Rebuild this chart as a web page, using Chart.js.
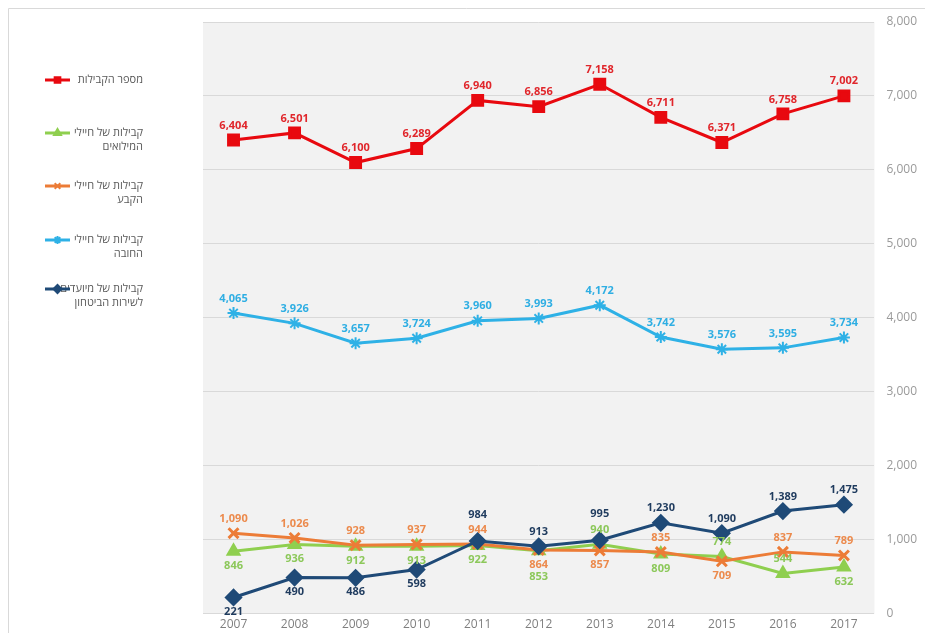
<!DOCTYPE html>
<html lang="he">
<head>
<meta charset="utf-8">
<title>קבילות</title>
<script src="https://cdn.jsdelivr.net/npm/chart.js@4/dist/chart.umd.min.js"></script>
<style>
  body { margin: 0; background: #fff; }
  canvas { display: block; }
</style>
</head>
<body>
<canvas id="grafico" width="925" height="633"></canvas>
<script>
const years = ['2007', '2008', '2009', '2010', '2011', '2012', '2013', '2014', '2015', '2016', '2017'];
const totalComplaints = [6404, 6501, 6100, 6289, 6940, 6856, 7158, 6711, 6371, 6758, 7002];
const reserveSoldiers = [846, 936, 912, 913, 922, 853, 940, 809, 774, 544, 632];
const careerSoldiers = [1090, 1026, 928, 937, 944, 864, 857, 835, 709, 837, 789];
const conscripts = [4065, 3926, 3657, 3724, 3960, 3993, 4172, 3742, 3576, 3595, 3734];
const candidates = [221, 490, 486, 598, 984, 913, 995, 1230, 1090, 1389, 1475];
const yMax = 8000;
const yStep = 1000;

const ctx = document.getElementById('grafico').getContext('2d');

// legend text lines for each series (RTL)
const legendLines = [
  ['מספר הקבילות'],
  ['קבילות של חיילי', 'המילואים'],
  ['קבילות של חיילי', 'הקבע'],
  ['קבילות של חיילי', 'החובה'],
  ['קבילות של מיועדים', 'לשירות הביטחון']
];
const legendY = [80, 133, 186, 240, 289];

// label placement: a = above, b = below, A/B = further away
const datasets = [
  {
    label: 'מספר הקבילות',
    data: totalComplaints,
    borderColor: '#e8090f', backgroundColor: '#e8090f',
    pointStyle: 'rect', pointRadius: 7, pointHoverRadius: 7,
    labelColor: '#e0262b',
    labelPos: 'aaaaaaaaaaa'
  },
  {
    label: 'קבילות של חיילי המילואים',
    data: reserveSoldiers,
    borderColor: '#8fcf4f', backgroundColor: '#8fcf4f',
    pointStyle: 'triangle', pointRadius: 6, pointHoverRadius: 6,
    labelColor: '#8cc85a',
    labelPos: 'bbbbbBabaab'
  },
  {
    label: 'קבילות של חיילי הקבע',
    data: careerSoldiers,
    borderColor: '#ec7c37', backgroundColor: '#ec7c37',
    pointStyle: 'crossRot', pointRadius: 7, pointHoverRadius: 7, pointBorderWidth: 3,
    labelColor: '#ec8a4c',
    labelPos: 'aaaaabbabaa'
  },
  {
    label: 'קבילות של חיילי החובה',
    data: conscripts,
    borderColor: '#2eb1e6', backgroundColor: '#2eb1e6',
    pointStyle: 'star', pointRadius: 6, pointHoverRadius: 6, pointBorderWidth: 2,
    labelColor: '#2eaee3',
    labelPos: 'aaaaaaaaaaa'
  },
  {
    label: 'קבילות של מיועדים לשירות הביטחון',
    data: candidates,
    borderColor: '#1f4a77', backgroundColor: '#1f4a77',
    pointStyle: 'rectRot', pointRadius: 7, pointHoverRadius: 7,
    labelColor: '#1f3b5e',
    labelPos: 'bbbbAaAaaaa'
  }
];
datasets.forEach(d => { d.borderWidth = 3; d.tension = 0; });
// dark blue on top, then red
const drawOrder = [1, 4, 3, 5, 0];
datasets.forEach((d, i) => { d.order = drawOrder[i]; });

const plotBackground = {
  id: 'plotBackground',
  beforeDraw(chart) {
    const c = chart.ctx;
    const a = chart.chartArea;
    c.save();
    // outer frame
    c.strokeStyle = '#d9d9d9';
    c.lineWidth = 1;
    c.beginPath();
    c.moveTo(8.5, 633);
    c.lineTo(8.5, 8.5);
    c.lineTo(925, 8.5);
    c.stroke();
    c.fillStyle = '#f2f2f2';
    c.fillRect(a.left, a.top, a.right - a.left, a.bottom - a.top);
    c.restore();
  }
};

const pointLabels = {
  id: 'pointLabels',
  afterDatasetsDraw(chart) {
    const c = chart.ctx;
    c.save();
    c.font = 'bold 11px "Open Sans", sans-serif';
    c.textAlign = 'center';
    chart.data.datasets.forEach((ds, i) => {
      const meta = chart.getDatasetMeta(i);
      c.fillStyle = ds.labelColor;
      meta.data.forEach((pt, j) => {
        const text = ds.data[j].toLocaleString('en-US');
        const pos = ds.labelPos[j];
        const extra = (pos === 'A' || pos === 'B') ? 12 : 0;
        if (pos === 'a' || pos === 'A') {
          c.textBaseline = 'bottom';
          c.fillText(text, pt.x, pt.y - 9 - extra);
        } else {
          c.textBaseline = 'top';
          c.fillText(text, pt.x, pt.y + 9 + extra);
        }
      });
    });
    c.restore();
  }
};

const sideLegend = {
  id: 'sideLegend',
  afterDraw(chart) {
    const c = chart.ctx;
    c.save();
    c.font = '11px "Open Sans", sans-serif';
    c.direction = 'rtl';
    c.textAlign = 'right';
    c.textBaseline = 'middle';
    chart.data.datasets.forEach((ds, i) => {
      const y = legendY[i];
      c.fillStyle = '#595959';
      legendLines[i].forEach((line, k) => {
        c.fillText(line, 143, y + k * 14);
      });
      c.strokeStyle = ds.borderColor;
      c.lineWidth = 3;
      c.beginPath();
      c.moveTo(45, y);
      c.lineTo(70, y);
      c.stroke();
      c.fillStyle = ds.borderColor;
      c.lineWidth = 2;
      Chart.helpers.drawPoint(c, {
        pointStyle: ds.pointStyle,
        radius: 4,
        rotation: 0,
        borderWidth: 2
      }, 57.5, y);
    });
    c.restore();
  }
};

const config = {
  type: 'line',
  data: { labels: years, datasets: datasets },
  options: {
    responsive: false,
    animation: false,
    layout: { padding: { left: 203, right: -4, top: 22, bottom: -8 } },
    plugins: {
      legend: { display: false },
      tooltip: { enabled: false }
    },
    scales: {
      x: {
        offset: true,
        grid: { display: false, drawTicks: false },
        border: { display: false },
        ticks: { color: '#7f7f7f', font: { size: 12, family: '"Open Sans", sans-serif' }, padding: 4 }
      },
      y: {
        position: 'right',
        min: 0,
        max: yMax,
        grid: { color: '#d9d9d9', drawTicks: false },
        border: { display: false },
        ticks: {
          stepSize: yStep,
          padding: 12,
          color: '#9a9a9a',
          font: { size: 12, family: '"Open Sans", sans-serif' },
          callback: v => v.toLocaleString('en-US')
        }
      }
    }
  },
  plugins: [plotBackground, pointLabels, sideLegend]
};

const myChart = new Chart(ctx, config);
</script>
</body>
</html>
